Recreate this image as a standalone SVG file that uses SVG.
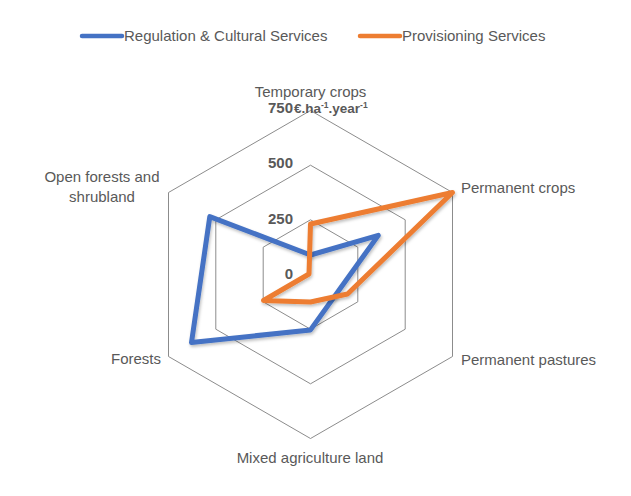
<svg xmlns="http://www.w3.org/2000/svg" width="631" height="496" viewBox="0 0 631 496">
<style>
  .lbl { font-family: "Liberation Sans", Arial, sans-serif; font-size: 15px; fill: #595959; }
  .num { font-family: "Liberation Sans", Arial, sans-serif; font-size: 15px; font-weight: bold; fill: #595959; }
  .grid { fill: none; stroke: #8c8c8c; stroke-width: 1; }
  .series { fill: none; stroke-width: 5; stroke-linejoin: round; filter: url(#sh); }
  .blue { stroke: #4472C4; }
  .orange { stroke: #ED7D31; }
  .leg { stroke-width: 4.5; stroke-linecap: round; }
</style>
<defs>
  <filter id="sh" x="-10%" y="-10%" width="130%" height="130%">
    <feDropShadow dx="1" dy="2" stdDeviation="1.5" flood-color="#000" flood-opacity="0.25"/>
  </filter>
</defs>
<rect width="631" height="496" fill="#ffffff"/>

<g id="legend">
  <line class="blue leg" x1="82" y1="36" x2="122" y2="36"/>
  <text class="lbl" x="124" y="41">Regulation &amp; Cultural Services</text>
  <line class="orange leg" x1="360" y1="36" x2="400" y2="36"/>
  <text class="lbl" x="402" y="41">Provisioning Services</text>
</g>

<g id="grid">
  <polygon class="grid" points="310.5,110.5 452.5,192.5 452.5,356.5 310.5,438.5 168.5,356.5 168.5,192.5"/>
  <polygon class="grid" points="310.5,165.2 405.2,219.8 405.2,329.2 310.5,383.8 215.8,329.2 215.8,219.8"/>
  <polygon class="grid" points="310.5,219.8 357.8,247.2 357.8,301.8 310.5,329.2 263.2,301.8 263.2,247.2"/>
</g>

<g id="axis-values">
  <text class="num" x="293" y="279" text-anchor="end">0</text>
  <text class="num" x="293" y="224" text-anchor="end">250</text>
  <text class="num" x="293" y="168" text-anchor="end">500</text>
  <text class="num" x="293" y="113" text-anchor="end">750</text>
  <text class="num" x="294" y="113" style="font-size:13.5px">€.ha<tspan dy="-5" style="font-size:8.5px">-1</tspan><tspan dy="5">.year</tspan><tspan dy="-5" style="font-size:8.5px">-1</tspan></text>
</g>

<g id="node-temporary-crops"><text class="lbl" x="310.5" y="97" text-anchor="middle">Temporary crops</text></g>
<g id="node-permanent-crops"><text class="lbl" x="461" y="193">Permanent crops</text></g>
<g id="node-permanent-pastures"><text class="lbl" x="461" y="365">Permanent pastures</text></g>
<g id="node-mixed-agriculture"><text class="lbl" x="310" y="463" text-anchor="middle">Mixed agriculture land</text></g>
<g id="node-forests"><text class="lbl" x="161" y="364" text-anchor="end">Forests</text></g>
<g id="node-open-forests"><text class="lbl" x="102" y="182" text-anchor="middle">Open forests and</text><text class="lbl" x="102" y="202" text-anchor="middle">shrubland</text></g>

<g id="connectors">
  <polygon class="series blue" points="310.5,255 378.3,235.4 338.6,290.7 310.5,329.9 191.5,342.5 209.8,216.6"/>
  <polygon class="series orange" points="310.5,224 452.5,192.5 347.5,294 310.5,302 263.5,300.5 309,274"/>
</g>
</svg>
